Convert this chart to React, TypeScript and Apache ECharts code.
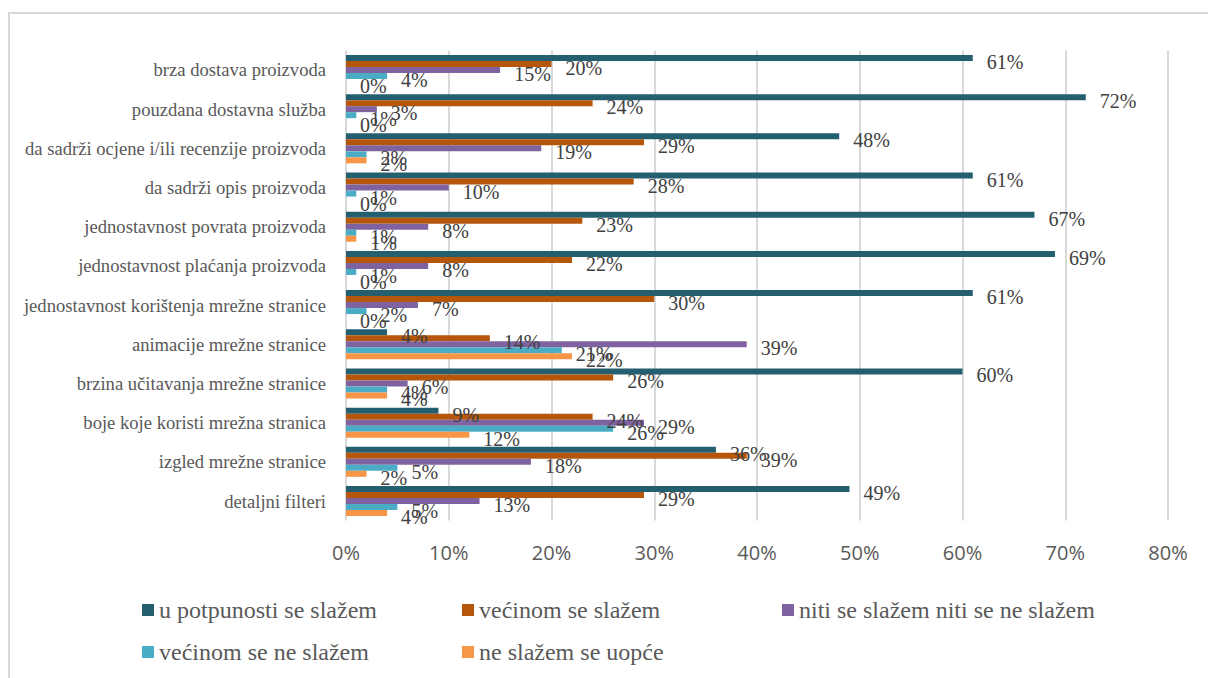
import React, { useEffect, useRef } from "react";
import * as echarts from "echarts";

const categories = [
  "brza dostava proizvoda",
  "pouzdana dostavna služba",
  "da sadrži ocjene i/ili recenzije proizvoda",
  "da sadrži opis proizvoda",
  "jednostavnost povrata proizvoda",
  "jednostavnost plaćanja proizvoda",
  "jednostavnost korištenja mrežne stranice",
  "animacije mrežne stranice",
  "brzina učitavanja mrežne stranice",
  "boje koje koristi mrežna stranica",
  "izgled mrežne stranice",
  "detaljni filteri",
];

const seriesNames = [
  "u potpunosti se slažem",
  "većinom se slažem",
  "niti se slažem niti se ne slažem",
  "većinom se ne slažem",
  "ne slažem se uopće",
];

const uPotpunosti = [61, 72, 48, 61, 67, 69, 61, 4, 60, 9, 36, 49];
const vecinomSlazem = [20, 24, 29, 28, 23, 22, 30, 14, 26, 24, 39, 29];
const nitiNiti = [15, 3, 19, 10, 8, 8, 7, 39, 6, 29, 18, 13];
const vecinomNeSlazem = [4, 1, 2, 1, 1, 1, 2, 21, 4, 26, 5, 5];
const neSlazemUopce = [0, 0, 2, 0, 1, 0, 0, 22, 4, 12, 2, 4];

const xTicks = [0, 10, 20, 30, 40, 50, 60, 70, 80];

const colors = ["#245F70", "#B5560B", "#7F63A1", "#4BACC6", "#F79646"];

const allValues = [uPotpunosti, vecinomSlazem, nitiNiti, vecinomNeSlazem, neSlazemUopce];

const legendPos = [
  { left: 142, top: 598 },
  { left: 462, top: 598 },
  { left: 782, top: 598 },
  { left: 142, top: 640 },
  { left: 462, top: 640 },
];

export default function App() {
  const ref = useRef<HTMLDivElement>(null);
  useEffect(() => {
    document.body.style.margin = "0";
    if (!ref.current) return;
    const chart = echarts.init(ref.current, null, { renderer: "svg" });
    const serif = "Liberation Serif";
    chart.setOption({
      animation: false,
      backgroundColor: "#ffffff",
      color: colors,
      graphic: [
        {
          type: "rect",
          shape: { x: 9, y: 13, width: 1400, height: 900 },
          style: { fill: "none", stroke: "#d9d9d9", lineWidth: 2 },
          z: 0,
        },
      ],
      legend: seriesNames.map((n, i) => ({
        data: [n],
        left: legendPos[i].left,
        top: legendPos[i].top,
        padding: 0,
        icon: "rect",
        itemWidth: 12,
        itemHeight: 12,
        selectedMode: false,
        textStyle: { fontFamily: serif, fontSize: 24, color: "#595959", lineHeight: 24 },
      })),
      grid: { left: 346, right: 40, top: 50.4, bottom: 157.4, containLabel: false },
      xAxis: {
        type: "value",
        min: xTicks[0],
        max: xTicks[xTicks.length - 1],
        interval: 10,
        axisLine: { show: false },
        axisTick: { show: false },
        splitLine: { show: true, lineStyle: { color: "#d9d9d9", width: 2 } },
        axisLabel: {
          formatter: "{value}%",
          fontFamily: "Open Sans",
          fontSize: 20,
          color: "#595959",
          margin: 22,
        },
      },
      yAxis: {
        type: "category",
        inverse: true,
        data: categories,
        axisLine: { show: false },
        axisTick: { show: false },
        axisLabel: { fontFamily: serif, fontSize: 18.6, color: "#595959", margin: 20 },
      },
      series: seriesNames.map((n, i) => ({
        name: n,
        type: "bar",
        data: allValues[i],
        barWidth: 6,
        barGap: "0%",
        itemStyle: { color: colors[i] },
        label: {
          show: true,
          position: "right",
          distance: 14,
          offset: [0, 4],
          formatter: "{c}%",
          fontFamily: serif,
          fontSize: 20,
          color: "#404040",
        },
      })),
    });
    return () => chart.dispose();
  }, []);
  return <div ref={ref} style={{ width: 1208, height: 678 }} />;
}
